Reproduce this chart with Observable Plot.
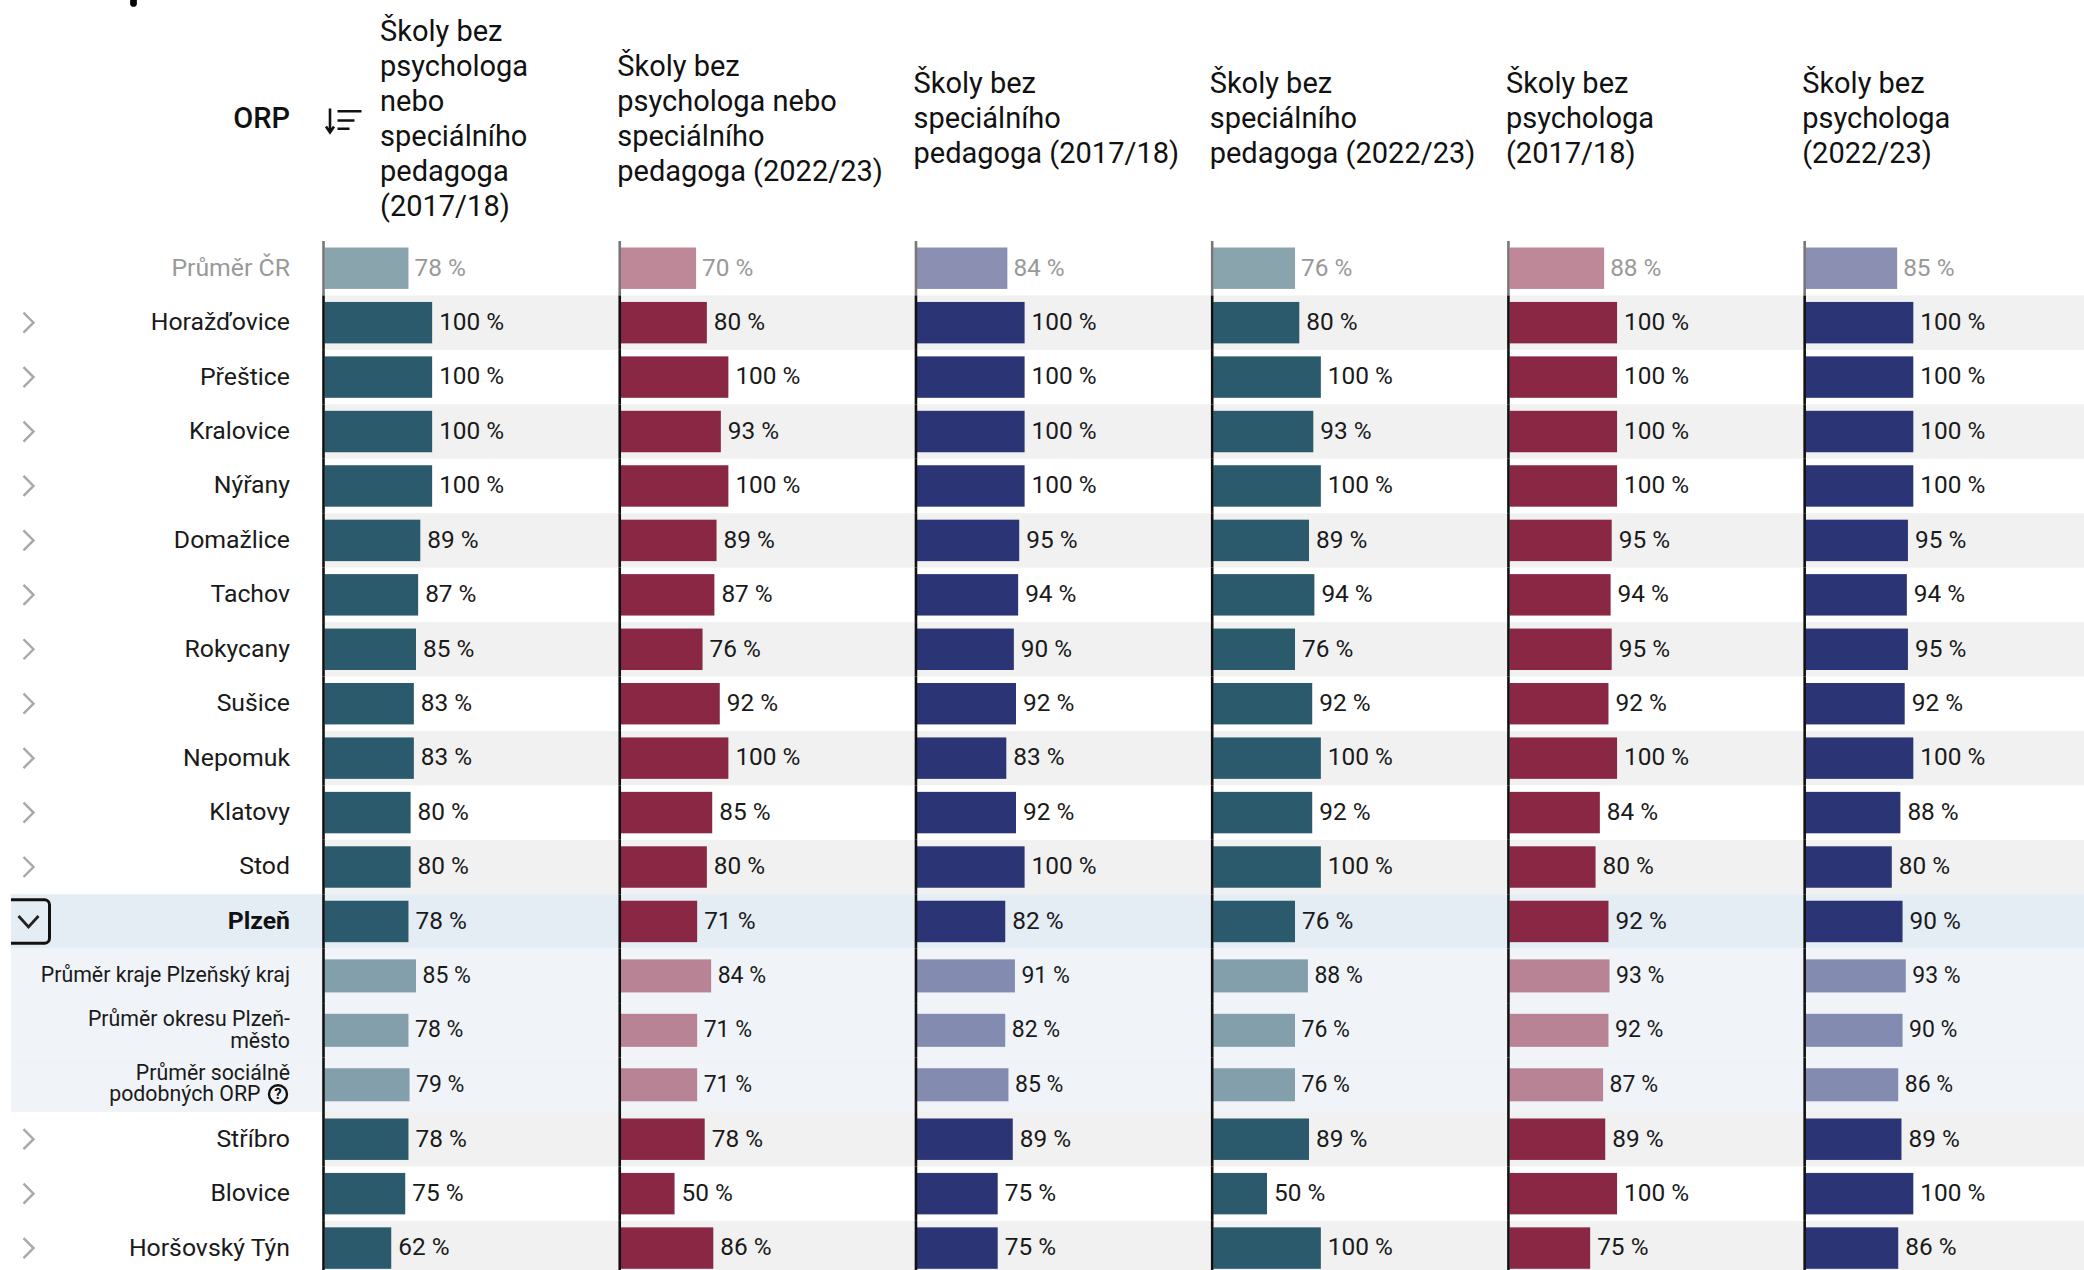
<!DOCTYPE html>
<html><head><meta charset="utf-8">
<script src="https://cdn.jsdelivr.net/npm/d3@7"></script>
<script src="https://cdn.jsdelivr.net/npm/@observablehq/plot@0.6"></script>
<style>html,body{margin:0;padding:0;background:#fff;overflow:hidden}</style>
</head><body><div id="chart"></div>
<script>
const rows = ["Průměr ČR","Horažďovice","Přeštice","Kralovice","Nýřany","Domažlice","Tachov","Rokycany","Sušice","Nepomuk","Klatovy","Stod","Plzeň","Průměr kraje Plzeňský kraj","Průměr okresu Plzeň-město","Průměr sociálně podobných ORP","Stříbro","Blovice","Horšovský Týn"];
const rowLabels = ["Průměr ČR","Horažďovice","Přeštice","Kralovice","Nýřany","Domažlice","Tachov","Rokycany","Sušice","Nepomuk","Klatovy","Stod","Plzeň","Průměr kraje Plzeňský kraj","Průměr okresu Plzeň-\nměsto","Průměr sociálně","Stříbro","Blovice","Horšovský Týn"];
const socialSecondLine = "podobných ORP";
const columns = ["Školy bez\npsychologa\nnebo\nspeciálního\npedagoga\n(2017/18)","Školy bez\npsychologa nebo\nspeciálního\npedagoga (2022/23)","Školy bez\nspeciálního\npedagoga (2017/18)","Školy bez\nspeciálního\npedagoga (2022/23)","Školy bez\npsychologa\n(2017/18)","Školy bez\npsychologa\n(2022/23)"];
const anyStaff2017 = [78,100,100,100,100,89,87,85,83,83,80,80,78,85,78,79,78,75,62];
const anyStaff2022 = [70,80,100,93,100,89,87,76,92,100,85,80,71,84,71,71,78,50,86];
const special2017 = [84,100,100,100,100,95,94,90,92,83,92,100,82,91,82,85,89,75,75];
const special2022 = [76,80,100,93,100,89,94,76,92,100,92,100,76,88,76,76,89,50,100];
const psych2017 = [88,100,100,100,100,95,94,95,92,100,84,80,92,93,92,87,89,100,75];
const psych2022 = [85,100,100,100,100,95,94,95,92,100,88,80,90,93,90,86,89,100,86];
const series = [anyStaff2017,anyStaff2022,special2017,special2022,psych2017,psych2022];
const colors = ["#2a5a6b","#8a2744","#2b3575","#2a5a6b","#8a2744","#2b3575"];
const countryRow = "Průměr ČR", cityRow = "Plzeň", socialRow = rows[15];
const subRows = rows.slice(13,16);
const zebraRows = ["Horažďovice","Kralovice","Domažlice","Rokycany","Nepomuk","Stod","Stříbro","Horšovský Týn"];
const xMax = 275.2;

const table = columns.flatMap((c,i)=>rows.map((r,j)=>({column:c,row:r,value:series[i][j],color:colors[i]})));
const main = table.filter(d=>d.row!==countryRow && !subRows.includes(d.row));
const light = table.filter(d=>d.row===countryRow || subRows.includes(d.row));
const first = columns[0];
const labels = rows.map((r,i)=>({row:r,label:rowLabels[i],column:first}));
const plainLabels = labels.filter(d=>d.row!==countryRow&&d.row!==cityRow&&!subRows.includes(d.row));
const bands = (names,fill)=>Plot.barX(columns.flatMap(c=>names.map(row=>({row,column:c}))),{x1:0,x2:xMax,y:"row",fx:"column",fill});
const symbol = draw=>({draw});
const chevron = symbol(c=>{c.moveTo(-5,-10);c.lineTo(5,0);c.lineTo(-5,10);});
const chevronDown = symbol(c=>{c.moveTo(-10,-6);c.lineTo(0,5);c.lineTo(10,-6);});
const blob = symbol(c=>{c.moveTo(0,-5);c.lineTo(0,3);});
const sortIcon = symbol(c=>{
  c.moveTo(-12,-12);c.lineTo(-12,12);c.moveTo(-16,6);c.lineTo(-12,12);c.lineTo(-8,6);
  c.moveTo(-4.5,-9.3);c.lineTo(19.5,-9.3);c.moveTo(-4.5,0);c.lineTo(12.5,0);c.moveTo(-4.5,8.3);c.lineTo(7.5,8.3);
});
const font = "Roboto, sans-serif";
const textUp = -1;

const chart = Plot.plot({
  width:2084,height:1270,marginLeft:324.5,marginRight:-17.9,marginTop:0,marginBottom:0,
  style:{fontFamily:font,background:"#fff"},
  fx:{domain:columns,padding:0,axis:null,round:false},
  x:{domain:[0,xMax],axis:null},
  y:{domain:rows,range:[241,1275.3],padding:0,round:false,axis:null},
  marks:[
    bands(zebraRows,"#f1f1f1"),
    bands([cityRow],"#e4ecf4"),
    bands(subRows,"#f0f4f8"),
    Plot.barX(rows.filter(r=>r===cityRow||subRows.includes(r)).map(row=>({row,column:first})),{x1:0,x2:0,y:"row",fx:"column",insetLeft:-313.5,fill:d=>d.row===cityRow?"#e4ecf4":"#f0f4f8"}),
    // bars
    Plot.barX(main,{x1:0,x2:"value",y:"row",fx:"column",fill:"color",insetTop:6.5,insetBottom:6.5}),
    Plot.barX(light.filter(d=>d.row===countryRow),{x1:0,x2:"value",y:"row",fx:"column",fill:"color",fillOpacity:.55,insetTop:6.5,insetBottom:6.5}),
    Plot.barX(light.filter(d=>d.row!==countryRow),{x1:0,x2:"value",y:"row",fx:"column",fill:"color",fillOpacity:.55,insetTop:10.7,insetBottom:10.7}),
    // axis lines
    Plot.tickX(table,{x:0,y:"row",fx:"column",stroke:d=>d.row===countryRow?"#777":"#111",strokeWidth:2.6,dx:-1.5}),
    // values
    Plot.text(main,{x:"value",y:"row",fx:"column",text:d=>d.value+" %",textAnchor:"start",dx:6.5,dy:textUp,fontSize:24.4,fill:"#1a1a1a"}),
    Plot.text(light.filter(d=>d.row===countryRow),{x:"value",y:"row",fx:"column",text:d=>d.value+" %",textAnchor:"start",dx:5.5,dy:textUp,fontSize:24.4,fill:"#999"}),
    Plot.text(light.filter(d=>d.row!==countryRow),{x:"value",y:"row",fx:"column",text:d=>d.value+" %",textAnchor:"start",dx:6,dy:textUp,fontSize:23,fill:"#1a1a1a"}),
    // row labels
    Plot.text(plainLabels,{x:0,y:"row",fx:"column",text:"label",textAnchor:"end",dx:-35,dy:textUp,fontSize:24.8,fill:"#1a1a1a"}),
    Plot.text(labels.filter(d=>d.row===countryRow),{x:0,y:"row",fx:"column",text:"label",textAnchor:"end",dx:-35,dy:textUp,fontSize:24.8,fill:"#999"}),
    Plot.text(labels.filter(d=>d.row===cityRow),{x:0,y:"row",fx:"column",text:"label",textAnchor:"end",dx:-35,dy:textUp,fontSize:24.8,fontWeight:700,fill:"#111"}),
    Plot.text(labels.filter(d=>subRows.includes(d.row)&&d.row!==socialRow),{x:0,y:"row",fx:"column",text:"label",textAnchor:"end",dx:-35,dy:textUp,fontSize:21.3,lineHeight:1.03,fill:"#1a1a1a"}),
    Plot.text(labels.filter(d=>d.row===socialRow),{x:0,y:"row",fx:"column",text:"label",textAnchor:"end",dx:-35,dy:-12.3,fontSize:21.3,fill:"#1a1a1a"}),
    Plot.text(labels.filter(d=>d.row===socialRow),{x:0,y:"row",fx:"column",text:()=>socialSecondLine,textAnchor:"end",dx:-64.5,dy:9.2,fontSize:21.3,fill:"#1a1a1a"}),
    // chevrons
    Plot.dot(plainLabels,{x:0,y:"row",fx:"column",dx:-296.5,dy:-0.5,r:1,symbol:chevron,fill:"none",stroke:"#a8a8a8",strokeWidth:2.4}),
    Plot.dot(labels.filter(d=>d.row===cityRow),{x:0,y:"row",fx:"column",dx:-296.5,r:1,symbol:chevronDown,fill:"none",stroke:"#222",strokeWidth:2.8}),
    Plot.barX(labels.filter(d=>d.row===cityRow),{x1:0,x2:0,y:"row",fx:"column",insetLeft:-330,insetRight:275,insetTop:5.5,insetBottom:5.5,rx:5,fill:"none",stroke:"#111",strokeWidth:3}),
    Plot.barX(labels.filter(d=>d.row===cityRow),{x1:0,x2:0,y:"row",fx:"column",insetLeft:-330,insetRight:313.5,fill:"#fff"}),
    // help icon
    Plot.dot(labels.filter(d=>d.row===socialRow),{x:0,y:"row",fx:"column",dx:-47,dy:9,r:9,fill:"none",stroke:"#111",strokeWidth:2.4}),
    Plot.text(labels.filter(d=>d.row===socialRow),{x:0,y:"row",fx:"column",dx:-47,dy:9,text:()=>"?",fontSize:15,fontWeight:700,fill:"#111"}),
    // headers
    Plot.text([columns[0]],{x:0,fx:d=>d,frameAnchor:"top",lineAnchor:"middle",dy:116.5,dx:55,text:d=>d,textAnchor:"start",fontSize:29,lineHeight:1.21,fill:"#111"}),
    Plot.text(columns.slice(1),{x:0,fx:d=>d,frameAnchor:"top",lineAnchor:"middle",dy:116.5,dx:-4,text:d=>d,textAnchor:"start",fontSize:29,lineHeight:1.21,fill:"#111"}),
    Plot.text(["ORP"],{x:0,fx:()=>first,frameAnchor:"top",lineAnchor:"middle",dy:118.5,dx:-35,text:d=>d,textAnchor:"end",fontSize:29,fontWeight:500,fill:"#111"}),
    Plot.dot(["sort"],{x:0,fx:()=>first,frameAnchor:"top",dy:120,dx:17,r:1,symbol:sortIcon,fill:"none",stroke:"#111",strokeWidth:2.6}),
    Plot.dot(["mark"],{x:0,fx:()=>first,frameAnchor:"top",dy:0,dx:-191.5,r:1,symbol:blob,fill:"none",stroke:"#000",strokeWidth:6.7,strokeLinecap:"round"})
  ]
});
document.getElementById("chart").append(chart);
</script></body></html>
